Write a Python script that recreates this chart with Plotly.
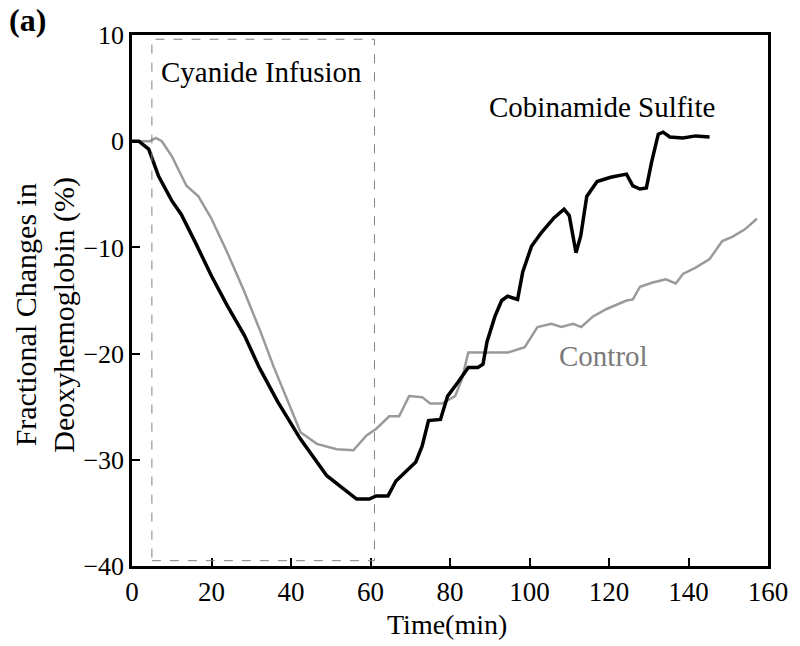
import plotly.graph_objects as go

# Cobinamide Sulfite (black)
cob_t = [0, 1.7, 4.2, 6.7, 10, 12.4, 15.9, 20, 24, 28.3, 32, 36.6, 42.3, 49, 56.5, 59.7, 61.4,
         64.4, 66.4, 71.4, 73, 74.6, 77.6, 79.4, 82, 84.6, 87, 88.3, 89.3, 91.3, 93, 94.5, 97,
         98.3, 100.5, 103, 106.2, 108.7, 110, 111.7, 112.9, 114.4, 117, 120.4, 124.4, 126,
         127.8, 129.4, 130.7, 132.4, 133.6, 135.3, 138.6, 141.8, 145.3]
cob_v = [0, 0, -0.75, -3.3, -5.6, -6.9, -9.5, -12.7, -15.5, -18.3, -21.3, -24.5, -28, -31.5,
         -33.7, -33.7, -33.4, -33.4, -32, -30.2, -28.7, -26.3, -26.2, -24, -22.7, -21.3, -21.3,
         -21, -18.9, -16.5, -15, -14.6, -14.9, -12.3, -9.9, -8.6, -7.2, -6.4, -7, -10.5, -8.9,
         -5.2, -3.8, -3.4, -3.1, -4.2, -4.5, -4.4, -2, 0.66, 0.85, 0.4, 0.3, 0.5, 0.4]

# Control (gray)
ctl_t = [0, 4.5, 6, 7.5, 10, 13, 13.7, 16.7, 20, 24, 28.3, 32.4, 35.7, 39, 42.4, 46.5, 51.5,
         55.7, 59, 61.4, 64.7, 67.2, 69.7, 73, 75, 78, 81.3, 83, 84.6, 90.5, 94.6, 98.8, 101.2,
         102, 105.5, 108, 111, 113, 116, 119.4, 124.4, 126, 127.8, 131, 134.3, 136.8, 138.6,
         141.8, 145.3, 148.5, 151, 154.2, 157.2]
ctl_v = [0, 0, 0.3, 0, -1.4, -3.6, -4.2, -5.2, -7.3, -10.5, -14.2, -18, -21.3, -24.3, -27.4,
         -28.5, -29, -29.1, -27.7, -27.1, -25.9, -25.9, -24, -24.1, -24.7, -24.7, -24, -22.4,
         -19.9, -19.9, -19.9, -19.4, -18, -17.5, -17.2, -17.5, -17.2, -17.5, -16.5, -15.8, -15,
         -14.9, -13.7, -13.3, -13, -13.4, -12.5, -11.9, -11.1, -9.4, -9, -8.3, -7.3]

x_ticks = [0, 20, 40, 60, 80, 100, 120, 140, 160]
y_ticks = [-40, -30, -20, -10, 0, 10]
infusion = [5, 61]

FONT = "Liberation Serif, Times New Roman, serif"

fig = go.Figure()
fig.add_trace(go.Scatter(x=ctl_t, y=ctl_v, mode="lines",
                         line=dict(color="#9a9a9a", width=2.5), showlegend=False))
fig.add_trace(go.Scatter(x=cob_t, y=cob_v, mode="lines",
                         line=dict(color="black", width=3.5), showlegend=False))

fig.add_shape(type="rect", x0=infusion[0], x1=infusion[1], y0=-39.5, y1=9.6,
              xref="x", yref="y", line=dict(color="#808080", width=1, dash="dash"))

fig.add_annotation(x=32.6, y=6.5, text="Cyanide Infusion", showarrow=False,
                   font=dict(family=FONT, size=29, color="black"))
fig.add_annotation(x=118.2, y=3.2, text="Cobinamide Sulfite", showarrow=False,
                   font=dict(family=FONT, size=29, color="black"))
fig.add_annotation(x=118.7, y=-20.2, text="Control", showarrow=False,
                   font=dict(family=FONT, size=29, color="#7a7a7a"))
fig.add_annotation(x=-0.1643, y=1.0659, xref="paper", yref="paper", text="<b>(a)</b>",
                   showarrow=False, xanchor="center", yanchor="top",
                   font=dict(family=FONT, size=32, color="black"))

# axis titles as rotated text lines
fig.add_annotation(x=-0.1674, y=0.473, xref="paper", yref="paper",
                   text="Fractional Changes in", textangle=-90, showarrow=False,
                   xanchor="center", yanchor="middle",
                   font=dict(family=FONT, size=30, color="black"))
fig.add_annotation(x=-0.107, y=0.473, xref="paper", yref="paper",
                   text="Deoxyhemoglobin (%)", textangle=-90, showarrow=False,
                   xanchor="center", yanchor="middle",
                   font=dict(family=FONT, size=30, color="black"))
fig.add_annotation(x=0.496, y=-0.111, xref="paper", yref="paper",
                   text="Time(min)", showarrow=False, xanchor="center", yanchor="middle",
                   font=dict(family=FONT, size=28, color="black"))

fig.update_xaxes(range=[0, 160], tickvals=x_ticks, ticks="inside", ticklen=8, tickwidth=2,
                 tickcolor="black", showline=True, linewidth=2.5, linecolor="black",
                 mirror=True, showgrid=False, zeroline=False, ticklabeloverflow="allow",
                 tickfont=dict(family=FONT, size=27, color="black"))
fig.update_yaxes(range=[-40, 10], tickvals=y_ticks, ticks="inside", ticklen=8, tickwidth=2,
                 tickcolor="black", showline=True, linewidth=2.5, linecolor="black",
                 mirror=True, showgrid=False, zeroline=False,
                 tickfont=dict(family=FONT, size=26, color="black"))

fig.update_layout(width=800, height=646, plot_bgcolor="white", paper_bgcolor="white",
                  margin=dict(l=132, r=23, t=35, b=80))

# remove the page's default 8px body margin so the 800x646 figure fills the window
fig.write_html("out.html", config={"displayModeBar": False},
               post_script="document.body.style.margin='0';"
                           "document.body.style.overflow='hidden';")
